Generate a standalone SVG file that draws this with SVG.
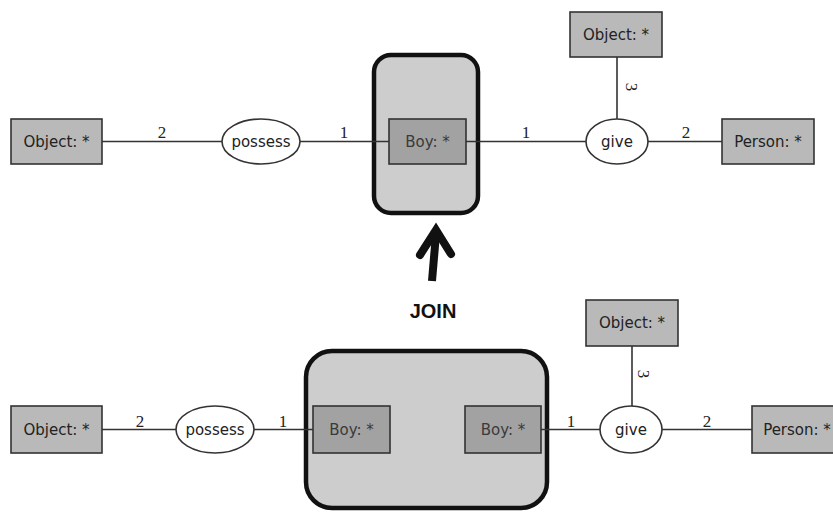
<svg xmlns="http://www.w3.org/2000/svg" width="833" height="512" viewBox="0 0 833 512">
<style>
.bg{fill:#ffffff}
.join{fill:#cdcdcd;stroke:#111;stroke-width:4.5}
.con{fill:#b9b9b9;stroke:#333;stroke-width:1.6}
.boy{fill:#a2a2a2;stroke:#333;stroke-width:1.6}
.rel{fill:#ffffff;stroke:#333;stroke-width:1.6}
.lbl{font-family:"DejaVu Sans",Verdana,sans-serif;font-size:15px;fill:#222;text-anchor:middle}
.boyt{fill:#3a3a3a}
.num{font-family:"Liberation Serif","Times New Roman",serif;font-size:17px;fill:#222;text-anchor:middle}
.edge{stroke:#333;stroke-width:1.6;fill:none}
.big{font-family:"Liberation Sans",Arial,sans-serif;font-size:20px;font-weight:bold;fill:#111;text-anchor:middle}
</style>
<rect class="bg" x="0" y="0" width="833" height="512"/>

<!-- join containers -->
<g id="join-top"><rect class="join" x="374" y="55" width="104" height="158" rx="17"/></g>
<g id="join-bottom"><rect class="join" x="306" y="351" width="241" height="157" rx="26"/></g>

<!-- connectors -->
<g id="connectors">
  <line class="edge" x1="102" y1="141.5" x2="222" y2="141.5"/>
  <line class="edge" x1="300" y1="141.5" x2="389" y2="141.5"/>
  <line class="edge" x1="466" y1="141.5" x2="586" y2="141.5"/>
  <line class="edge" x1="648" y1="141.5" x2="722" y2="141.5"/>
  <line class="edge" x1="617" y1="57" x2="617" y2="119"/>
  <text class="num" x="162" y="138">2</text>
  <text class="num" x="344" y="138">1</text>
  <text class="num" x="526" y="138">1</text>
  <text class="num" x="686" y="138">2</text>
  <text class="num" transform="translate(631,87) rotate(90)" x="0" y="5.5">3</text>

  <line class="edge" x1="102" y1="429.5" x2="176" y2="429.5"/>
  <line class="edge" x1="254" y1="429.5" x2="313" y2="429.5"/>
  <line class="edge" x1="541" y1="429.5" x2="600" y2="429.5"/>
  <line class="edge" x1="662" y1="429.5" x2="752" y2="429.5"/>
  <line class="edge" x1="632" y1="346" x2="632" y2="406"/>
  <text class="num" x="140" y="427">2</text>
  <text class="num" x="283" y="427">1</text>
  <text class="num" x="571" y="427">1</text>
  <text class="num" x="707" y="427">2</text>
  <text class="num" transform="translate(643,374) rotate(90)" x="0" y="5.5">3</text>
</g>

<!-- top graph -->
<g id="t-object"><rect class="con" x="11" y="119" width="91" height="45"/><text class="lbl" x="56.5" y="147">Object: *</text></g>
<g id="t-possess"><ellipse class="rel" cx="261" cy="141.5" rx="39" ry="22.5"/><text class="lbl" x="261" y="147">possess</text></g>
<g id="t-boy"><rect class="boy" x="389" y="119" width="77" height="45"/><text class="lbl boyt" x="427.5" y="147">Boy: *</text></g>
<g id="t-give"><ellipse class="rel" cx="617" cy="141.5" rx="31" ry="22.5"/><text class="lbl" x="617" y="147">give</text></g>
<g id="t-object2"><rect class="con" x="570" y="12" width="92" height="45"/><text class="lbl" x="616" y="40">Object: *</text></g>
<g id="t-person"><rect class="con" x="722" y="119" width="92" height="45"/><text class="lbl" x="768" y="147">Person: *</text></g>

<!-- arrow and label -->
<g id="join-arrow">
  <line x1="432" y1="281" x2="436" y2="234" stroke="#111" stroke-width="8"/>
  <polyline points="420,255 436,230 451,254" fill="none" stroke="#111" stroke-width="8" stroke-linejoin="miter" stroke-linecap="round"/>
  <text class="big" x="433" y="318">JOIN</text>
</g>

<!-- bottom graph -->
<g id="b-object"><rect class="con" x="11" y="406" width="91" height="47"/><text class="lbl" x="56.5" y="435">Object: *</text></g>
<g id="b-possess"><ellipse class="rel" cx="215" cy="429.5" rx="39" ry="23.5"/><text class="lbl" x="215" y="435">possess</text></g>
<g id="b-boy1"><rect class="boy" x="313" y="406" width="77" height="47"/><text class="lbl boyt" x="351.5" y="435">Boy: *</text></g>
<g id="b-boy2"><rect class="boy" x="465" y="406" width="76" height="47"/><text class="lbl boyt" x="503" y="435">Boy: *</text></g>
<g id="b-give"><ellipse class="rel" cx="631" cy="429.5" rx="31" ry="23.5"/><text class="lbl" x="631" y="435">give</text></g>
<g id="b-object2"><rect class="con" x="586" y="300" width="92" height="46"/><text class="lbl" x="632" y="328">Object: *</text></g>
<g id="b-person"><rect class="con" x="752" y="406" width="92" height="47"/><text class="lbl" x="797" y="435">Person: *</text></g>
</svg>
